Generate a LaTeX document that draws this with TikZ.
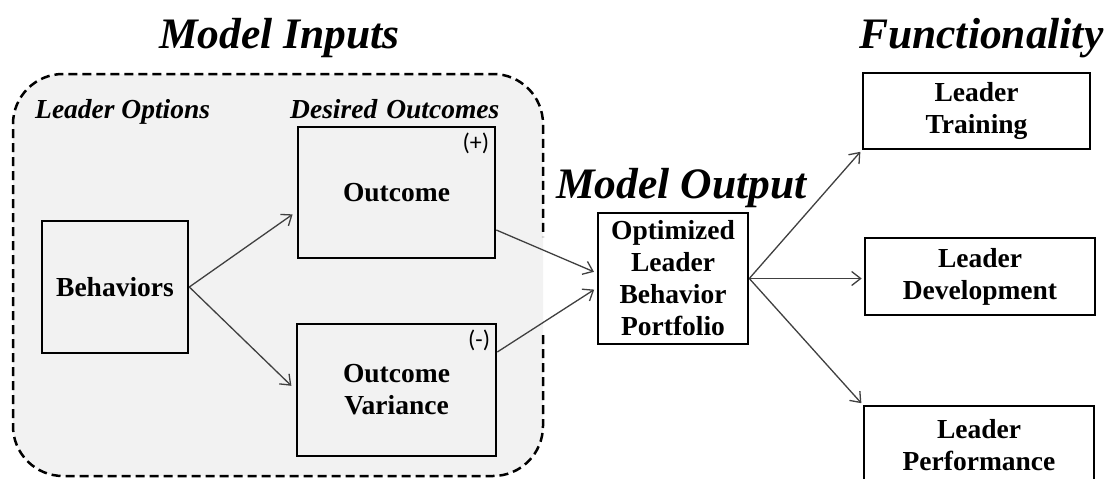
\documentclass[tikz,border=0pt]{standalone}
\usepackage{fontspec}
\setmainfont{Liberation Serif}
\newfontfamily\signfont{Carlito}
\usetikzlibrary{arrows.meta,calc}
\definecolor{inputbg}{HTML}{F2F2F2}
\definecolor{arrcol}{HTML}{404040}
\begin{document}
\begin{tikzpicture}[x=1pt,y=-1pt,
  box/.style={draw=black, line width=2.6pt, align=center, inner sep=0pt,
    font=\fontsize{27.5}{32}\selectfont\bfseries},
  whitebox/.style={box, fill=white},
  arr/.style={draw=arrcol, line width=1.3pt, -{Straight Barb[length=9pt,width=14pt,line width=1.3pt]}},
  title/.style={font=\fontsize{43.5}{48}\selectfont\bfseries\itshape, inner sep=0pt, anchor=base west},
  sublabel/.style={font=\fontsize{27.5}{30}\selectfont\bfseries\itshape, inner sep=0pt, anchor=base west},
  sign/.style={font=\fontsize{24}{26}\selectfont\signfont, inner sep=0pt, anchor=north east},
  dashborder/.style={draw=black, line width=2.5pt, dash pattern=on 9pt off 5pt, rounded corners=50pt}
]
\clip (0,0) rectangle (1108,479);
\fill[white] (0,0) rectangle (1108,479);
% model inputs region
\fill[inputbg, rounded corners=50pt] (13,74) rectangle (543,476);
\draw[dashborder] (543,335) -- (543,476) -- (13,476) -- (13,74) -- (543,74) -- (543,237);

% titles
\node[title] (tin) at (159,48) {Model Inputs};
\node[title] (tout) at (556,198) {Model Output};
\node[title] (tfun) at (859,48) {Functionality};
\node[sublabel] (lopt) at (35,118) {Leader Options};
\node[sublabel] (ldes) at (290,118) {Desired\hspace{9pt}Outcomes};

% boxes
\node[box, minimum width=146pt, minimum height=132pt] (beh) at (115,287) {Behaviors};
\node[box, minimum width=197pt, minimum height=131pt] (out) at (396.5,192.5) {Outcome};
\node[box, minimum width=199pt, minimum height=132pt] (var) at (396.5,390) {Outcome\\Variance};
\node[whitebox, minimum width=150pt, minimum height=131pt] (port) at (673,278.5) {Optimized\\Leader\\Behavior\\Portfolio};
\node[whitebox, minimum width=227pt, minimum height=76pt] (train) at (976.5,111) {Leader\\Training};
\node[whitebox, minimum width=230pt, minimum height=77pt] (dev) at (980,276.5) {Leader\\Development};
\node[whitebox, minimum width=230pt, minimum height=78pt] (perf) at (979,445) {Leader\\Performance};

% signs
\node[sign] (plus) at ($(out.north east)+(-7,7)$) {(+)};
\node[sign] (minus) at ($(var.north east)+(-7,7)$) {(-)};

% arrows
\draw[arr, shorten >=5pt] (beh.east) -- ($(out.west)+(0,19)$);
\draw[arr, shorten >=6pt] (beh.east) -- (var.west);
\draw[arr, shorten >=3pt] ($(out.east)+(0,37.5)$) -- ($(port.west)+(0,-5.5)$);
\draw[arr, shorten >=3pt] ($(var.east)+(0,-38)$) -- ($(port.west)+(0,9.5)$);
\draw[arr, shorten >=2pt] (port.east) -- (train.south west);
\draw[arr, shorten >=2pt] (port.east) -- (port.east -| dev.west);
\draw[arr, shorten >=2pt] (port.east) -- (perf.north west);
\end{tikzpicture}
\end{document}
